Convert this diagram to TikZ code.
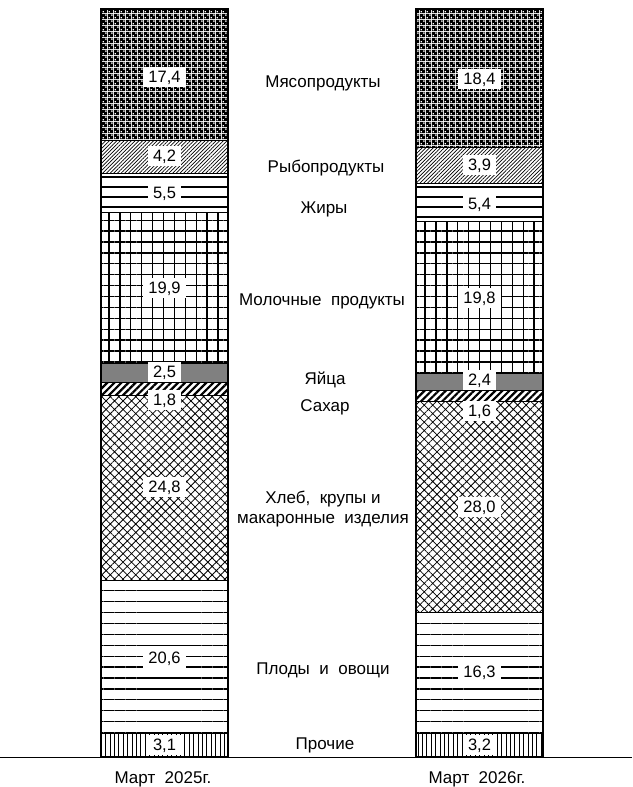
\documentclass[tikz,border=0pt]{standalone}
\usepackage{fontspec}
\setmainfont{Liberation Sans}
\usetikzlibrary{patterns,patterns.meta}
\pgfdeclarepatternformonly{checkr}{\pgfpointorigin}{\pgfqpoint{6pt}{6pt}}{\pgfqpoint{6pt}{6pt}}{%
  \pgfseteorule
  \pgfpathrectangle{\pgfqpoint{0pt}{0pt}}{\pgfqpoint{6pt}{6pt}}%
  \pgfpathrectangle{\pgfqpoint{0.7pt}{0.7pt}}{\pgfqpoint{1.7pt}{1.7pt}}%
  \pgfpathrectangle{\pgfqpoint{3.7pt}{3.7pt}}{\pgfqpoint{1.7pt}{1.7pt}}%
  \pgfusepath{fill}}
\definecolor{eggc}{RGB}{128,128,128}
\begin{document}
\begin{tikzpicture}[x=1pt,y=-1pt,
  seg/.style={draw=black, line width=0.9pt},
  meat/.style={seg, pattern=checkr},
  fish/.style={seg, pattern={Lines[angle=45,distance=2.6pt,line width=0.7pt]}},
  fats/.style={seg, pattern={Lines[angle=0,distance=10pt,line width=1.1pt]}},
  dairy/.style={seg, pattern={Hatch[angle=0,distance=10.9pt,line width=1.3pt]}},
  eggs/.style={seg, fill=eggc},
  sugar/.style={seg, pattern={Lines[angle=45,distance=5pt,line width=2.2pt]}},
  bread/.style={seg, pattern={Hatch[angle=45,distance=6pt,line width=0.8pt]}},
  fruit/.style={seg, pattern={Lines[angle=0,distance=10.9pt,line width=1.25pt]}},
  other/.style={seg, pattern={Lines[angle=90,distance=4.4pt,line width=1pt]}},
  barframe/.style={draw=black, line width=1.3pt},
  val/.style={fill=white, inner xsep=5pt, inner ysep=4pt, text height=11.5pt, text depth=0.5pt,
    font=\fontsize{16.5}{18}\selectfont},
  cat/.style={anchor=base, align=center, font=\fontsize{17}{21}\selectfont},
  axlab/.style={anchor=base, font=\fontsize{17}{21}\selectfont}]
\useasboundingbox (0,0) rectangle (632,787);
% left bar
\def\xa{101}\def\xb{228}
\draw[meat]  (\xa,9)   rectangle (\xb,140);
\draw[fish]  (\xa,140) rectangle (\xb,173);
\draw[fats]  (\xa,173) rectangle (\xb,212);
\draw[dairy] (\xa,212) rectangle (\xb,363);
\draw[eggs]  (\xa,363) rectangle (\xb,382);
\draw[sugar] (\xa,382) rectangle (\xb,395);
\draw[bread] (\xa,395) rectangle (\xb,580);
\draw[fruit] (\xa,580) rectangle (\xb,733);
\draw[other] (\xa,733) rectangle (\xb,757);
\draw[barframe] (\xa,9) rectangle (\xb,757);
% right bar
\def\xc{416}\def\xd{543}
\draw[meat]  (\xc,9)   rectangle (\xd,147);
\draw[fish]  (\xc,147) rectangle (\xd,183);
\draw[fats]  (\xc,183) rectangle (\xd,221);
\draw[dairy] (\xc,221) rectangle (\xd,373);
\draw[eggs]  (\xc,373) rectangle (\xd,390);
\draw[sugar] (\xc,390) rectangle (\xd,401);
\draw[bread] (\xc,401) rectangle (\xd,612);
\draw[fruit] (\xc,612) rectangle (\xd,733);
\draw[other] (\xc,733) rectangle (\xd,757);
\draw[barframe] (\xc,9) rectangle (\xd,757);
% axis
\coordinate (axL) at (0,757);
\coordinate (axR) at (632,757);
\draw[line width=1pt] (axL) -- (axR);
% values left
\node[val] (l1) at (164.5,77)  {17,4};
\node[val] (l2) at (164.5,156) {4,2};
\node[val] (l3) at (164.5,193) {5,5};
\node[val] (l4) at (164.5,288) {19,9};
\node[val] (l5) at (164.5,372) {2,5};
\node[val] (l6) at (164.5,400) {1,8};
\node[val] (l7) at (164.5,487) {24,8};
\node[val] (l8) at (164.5,658) {20,6};
\node[val] (l9) at (164.5,745) {3,1};
% values right
\node[val] (r1) at (479.5,79)  {18,4};
\node[val] (r2) at (479.5,165) {3,9};
\node[val] (r3) at (479.5,204) {5,4};
\node[val] (r4) at (479.5,298) {19,8};
\node[val] (r5) at (479.5,380) {2,4};
\node[val] (r6) at (479.5,411) {1,6};
\node[val] (r7) at (479.5,507) {28,0};
\node[val] (r8) at (479.5,672) {16,3};
\node[val] (r9) at (479.5,745) {3,2};
% categories
\node[cat] (c1) at (323,87)  {Мясопродукты};
\node[cat] (c2) at (326,172) {Рыбопродукты};
\node[cat] (c3) at (324,213) {Жиры};
\node[cat] (c4) at (322,305) {Молочные~ продукты};
\node[cat] (c5) at (325,384) {Яйца};
\node[cat] (c6) at (325,411) {Сахар};
\node[cat] (c7) at (323,503) {Хлеб,~ крупы и};
\node[cat] (c8) at (323,523) {макаронные~ изделия};
\node[cat] (c9) at (323,674) {Плоды~ и~ овощи};
\node[cat] (c10) at (325,749) {Прочие};
% axis labels
\node[axlab] (m1) at (163,783) {Март~ 2025г.};
\node[axlab] (m2) at (477,783) {Март~ 2026г.};
\end{tikzpicture}
\end{document}
